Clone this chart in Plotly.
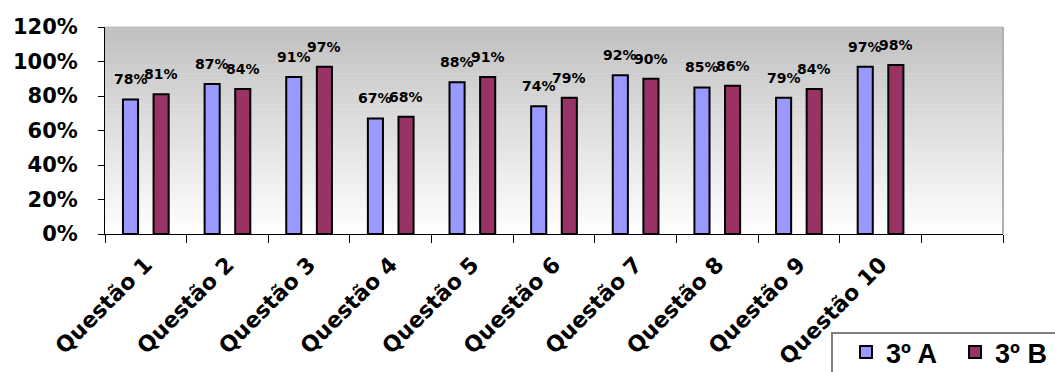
import plotly.graph_objects as go

categories = ["Questão 1", "Questão 2", "Questão 3", "Questão 4", "Questão 5",
              "Questão 6", "Questão 7", "Questão 8", "Questão 9", "Questão 10", " "]
turma_a = [0.78, 0.87, 0.91, 0.67, 0.88, 0.74, 0.92, 0.85, 0.79, 0.97, None]
turma_b = [0.81, 0.84, 0.97, 0.68, 0.91, 0.79, 0.90, 0.86, 0.84, 0.98, None]
series_names = ["3º A", "3º B"]
y_ticks = [0, 0.2, 0.4, 0.6, 0.8, 1.0, 1.2]

W, H = 1055, 372
ML, MR, MT, MB = 105, 52, 27, 138
plot_w = W - ML - MR
plot_h = H - MT - MB
cat_px = plot_w / len(categories)

bar_w = 0.185
off_a, off_b = -0.28, 0.095

fig = go.Figure()
fig.add_trace(go.Bar(x=categories, y=turma_a, name=series_names[0],
                     marker=dict(color="#9999FF", line=dict(color="black", width=2)),
                     width=bar_w, offset=off_a))
fig.add_trace(go.Bar(x=categories, y=turma_b, name=series_names[1],
                     marker=dict(color="#993366", line=dict(color="black", width=2)),
                     width=bar_w, offset=off_b))

# data labels
for vals, off in ((turma_a, off_a), (turma_b, off_b)):
    xs = (off + bar_w / 2) * cat_px
    for c, v in zip(categories, vals):
        if v is None:
            continue
        fig.add_annotation(x=c, y=v, text=f"{round(v*100)}%", showarrow=False,
                           xref="x", yref="y", xshift=xs, yshift=20,
                           font=dict(family="DejaVu Sans", size=14, color="black", weight="bold"))

# gradient background
shapes = []
n = 80
for i in range(n):
    t = i / n
    g = int(round(192 + (255 - 192) * t))
    shapes.append(dict(type="rect", xref="paper", yref="paper", x0=0, x1=1,
                       y0=1 - (i + 1) / n, y1=1 - i / n + 0.002, layer="below",
                       line=dict(width=0), fillcolor=f"rgb({g},{g},{g})"))
# right border
shapes.append(dict(type="line", xref="paper", yref="paper", x0=1, x1=1, y0=0, y1=1,
                   line=dict(color="#b0b0b0", width=2)))
# legend box
lx0 = (832 - ML) / plot_w
ly0 = -(333 - (H - MB)) / plot_h
shapes.append(dict(type="rect", xref="paper", yref="paper", x0=lx0, x1=1.2,
                   y0=ly0, y1=-1.0, line=dict(color="#808080", width=2),
                   fillcolor="white", layer="above"))

fig.update_layout(
    width=W, height=H,
    margin=dict(l=ML, r=MR, t=MT, b=MB, autoexpand=False),
    paper_bgcolor="white", plot_bgcolor="white",
    barmode="overlay",
    shapes=shapes,
    showlegend=True,
    legend=dict(orientation="h", x=(846 - ML) / plot_w, y=-(328 - (H - MB)) / plot_h,
                xanchor="left", yanchor="top",
                font=dict(family="Liberation Sans", size=27, color="black", weight="bold"),
                bgcolor="rgba(0,0,0,0)", borderwidth=0, itemwidth=30, tracegroupgap=0,
                entrywidth=64),
    xaxis=dict(type="category", tickangle=-45, showgrid=False, showline=True,
               linecolor="black", linewidth=1, ticks="outside", tickson="boundaries",
               ticklen=8, tickcolor="black", automargin=False, ticklabelstandoff=8,
               tickfont=dict(family="DejaVu Sans", size=22, color="black", weight="bold"),
               range=[-0.5, len(categories) - 0.5]),
    yaxis=dict(range=[0, 1.2], tickvals=y_ticks, tickformat=".0%", showgrid=False,
               showline=True, linecolor="black", linewidth=1, ticks="outside",
               ticklen=6, tickcolor="black", zeroline=False, automargin=False,
               ticklabelstandoff=16,
               tickfont=dict(family="DejaVu Sans", size=21, color="black", weight="bold")),
)

fig.write_html("out.html")
